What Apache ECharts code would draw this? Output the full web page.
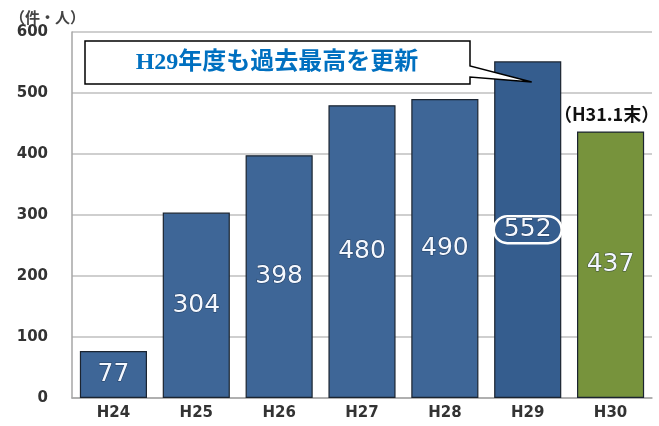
<!DOCTYPE html>
<html><head><meta charset="utf-8">
<script src="https://cdn.jsdelivr.net/npm/echarts@6/dist/echarts.min.js"></script>
<style>html,body{margin:0;padding:0;background:#fff}#c{width:659px;height:426px}</style>
</head><body><div id="c"></div>
<script>
const categories = ['H24','H25','H26','H27','H28','H29','H30'];
const values = [77, 304, 398, 480, 490, 552, 437];
const yTicks = [0, 100, 200, 300, 400, 500, 600];
const unitLabel = '（件・人）';
const calloutText = 'H29年度も過去最高を更新';
const noteText = '（H31.1末）';

const BLUE = '#3E6697', BLUE_DARK = '#355D8E', GREEN = '#77933C';
const chart = echarts.init(document.getElementById('c'));

const dataItems = values.map((v, i) => {
  const item = { value: v, itemStyle: { color: i === 6 ? GREEN : (i === 5 ? BLUE_DARK : BLUE) } };
  if (i === 5) {
    item.label = { borderColor: '#fff', borderWidth: 2.5, borderRadius: 14, padding: [2, 10, 0, 10] };
  }
  return item;
});

chart.setOption({
  animation: false,
  title: { text: unitLabel, left: 5, top: 5,
    textStyle: { fontFamily: 'Noto Sans CJK JP', fontSize: 15, fontWeight: 'bold', color: '#444' } },
  grid: { left: 72, right: 7, top: 32, bottom: 28 },
  xAxis: {
    type: 'category', data: categories,
    axisTick: { show: false },
    axisLine: { lineStyle: { color: '#A6A6A6', width: 1.5 } },
    axisLabel: { fontFamily: 'DejaVu Sans', fontWeight: 'bold', fontSize: 15, color: '#333', margin: 8 }
  },
  yAxis: {
    type: 'value', min: yTicks[0], max: yTicks[yTicks.length - 1], interval: 100,
    axisLine: { show: true, lineStyle: { color: '#A6A6A6', width: 1.5 } },
    axisTick: { show: false },
    splitLine: { lineStyle: { color: '#BFBFBF', width: 1.5 } },
    axisLabel: { fontFamily: 'DejaVu Sans', fontWeight: 'bold', fontSize: 15, color: '#333', margin: 24 }
  },
  series: [{
    type: 'bar', data: dataItems, barCategoryGap: '19%',
    itemStyle: { borderColor: '#1B2430', borderWidth: 1.2 },
    label: { show: true, position: 'inside', fontFamily: 'DejaVu Sans', fontSize: 25,
      color: '#F4F8FF', textBorderColor: 'rgba(20,35,60,0.6)', textBorderWidth: 1 },
    markPoint: {
      symbol: 'circle', symbolSize: 0, silent: true,
      data: [{ coord: ['H30', 437], value: 0 }],
      label: { show: true, formatter: noteText, position: 'inside', offset: [-4, -17],
        fontFamily: 'Noto Sans CJK JP', fontWeight: 'bold', fontSize: 18, color: '#111' }
    }
  }]
});

const tip = chart.convertToPixel({ seriesIndex: 0 }, ['H29', 518]);
const tx = tip[0] + 4, ty = tip[1];
chart.setOption({
  graphic: [
    { type: 'polygon', z: 100,
      shape: { points: [[85,41],[470,41],[470,66],[tx,ty],[470,77],[470,84],[85,84]] },
      style: { fill: '#fff', stroke: '#000', lineWidth: 1.5 } },
    { type: 'text', z: 101, x: 277, y: 63,
      style: { text: calloutText, fill: '#0070C0', align: 'center', verticalAlign: 'middle',
        font: 'bold 24px "Liberation Serif", "Noto Sans CJK JP", serif' } }
  ]
});
</script></body></html>
